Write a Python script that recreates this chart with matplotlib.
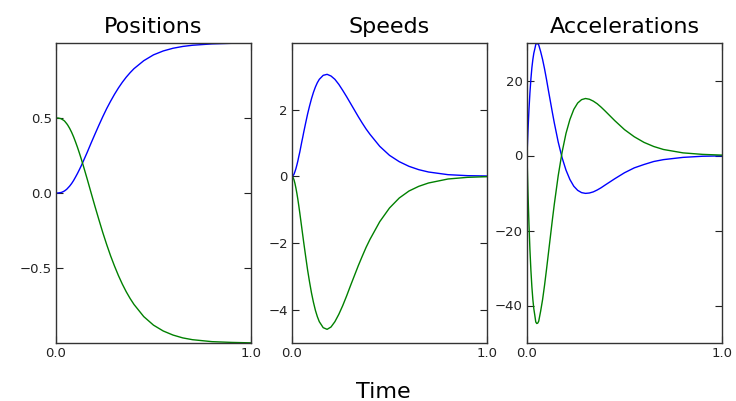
"""
Positions, speeds and accelerations of two trajectories over time,
drawn as three side-by-side panels in the classic matplotlib look.
"""

import matplotlib

matplotlib.use("Agg")
import matplotlib.pyplot as plt

# ---------------------------------------------------------------------------
# Values

time = [0.0, 0.005, 0.01, 0.015, 0.02, 0.025, 0.03, 0.035, 0.04, 0.045,
        0.05, 0.055, 0.06, 0.07, 0.08, 0.09, 0.10, 0.11, 0.12, 0.13, 0.14,
        0.16, 0.18, 0.20, 0.22, 0.24, 0.26, 0.28, 0.30, 0.32, 0.34, 0.36,
        0.38, 0.40, 0.45, 0.50, 0.55, 0.60, 0.65, 0.70, 0.80, 0.90, 1.0]

pos_blue = [0.0, 0.0, 0.0, 0.001, 0.002, 0.003, 0.005, 0.008, 0.011, 0.015,
            0.020, 0.025, 0.032, 0.046, 0.063, 0.083, 0.106, 0.130, 0.156,
            0.183, 0.212, 0.271, 0.333, 0.393, 0.452, 0.509, 0.563, 0.612,
            0.658, 0.700, 0.738, 0.772, 0.802, 0.829, 0.882, 0.921, 0.947,
            0.965, 0.977, 0.985, 0.994, 0.998, 0.999]
pos_green = [0.5, 0.5, 0.5, 0.499, 0.497, 0.496, 0.492, 0.488, 0.484, 0.478,
             0.470, 0.462, 0.453, 0.431, 0.405, 0.375, 0.341, 0.305, 0.266,
             0.225, 0.182, 0.093, 0.001, -0.090, -0.178, -0.264, -0.344,
             -0.419, -0.487, -0.550, -0.607, -0.658, -0.703, -0.743, -0.824,
             -0.881, -0.920, -0.947, -0.966, -0.978, -0.991, -0.996, -0.999]

speed_blue = [0.0, 0.02, 0.06, 0.14, 0.23, 0.34, 0.46, 0.60, 0.73, 0.88,
              1.03, 1.17, 1.32, 1.60, 1.87, 2.11, 2.33, 2.52, 2.68, 2.81,
              2.91, 3.03, 3.06, 3.01, 2.91, 2.76, 2.58, 2.39, 2.19, 1.99,
              1.79, 1.60, 1.42, 1.26, 0.90, 0.63, 0.44, 0.30, 0.20, 0.13,
              0.05, 0.02, 0.01]
speed_green = [0.0, -0.03, -0.10, -0.21, -0.35, -0.51, -0.69, -0.89, -1.10,
               -1.32, -1.54, -1.76, -1.98, -2.40, -2.81, -3.17, -3.50, -3.78,
               -4.02, -4.21, -4.36, -4.54, -4.59, -4.52, -4.36, -4.14, -3.88,
               -3.59, -3.28, -2.98, -2.68, -2.40, -2.13, -1.89, -1.36, -0.95,
               -0.65, -0.44, -0.30, -0.20, -0.08, -0.03, -0.01]

acc_blue = [0.0, 6.6, 12.2, 16.7, 20.4, 23.4, 25.6, 27.3, 28.4, 29.6, 29.9,
            29.8, 29.5, 27.7, 25.6, 23.1, 20.3, 17.3, 14.4, 11.5, 8.7, 3.6,
            -0.6, -3.9, -6.4, -8.2, -9.3, -9.9, -10.1, -10.0, -9.7, -9.2,
            -8.6, -7.9, -6.2, -4.6, -3.3, -2.4, -1.6, -1.1, -0.5, -0.2, -0.1]
acc_green = [0.0, -9.9, -18.2, -25.1, -30.6, -35.0, -38.4, -40.9, -42.6,
             -44.4, -44.8, -44.7, -44.2, -41.5, -38.4, -34.6, -30.4, -26.0,
             -21.6, -17.2, -13.0, -5.4, 0.9, 5.9, 9.6, 12.3, 14.0, 14.9, 15.2,
             15.0, 14.5, 13.8, 12.9, 11.9, 9.3, 6.9, 5.0, 3.5, 2.4, 1.6, 0.7,
             0.3, 0.1]

panels = [
    ("Positions", pos_blue, pos_green, (-1.0, 1.0), [-0.5, 0.0, 0.5], "%.1f"),
    ("Speeds", speed_blue, speed_green, (-5, 4), [-4, -2, 0, 2], "%d"),
    ("Accelerations", acc_blue, acc_green, (-50, 30), [-40, -20, 0, 20], "%d"),
]

# ---------------------------------------------------------------------------
# Figure

W, H = 736, 401
fig = plt.figure(figsize=(W / 100, H / 100), dpi=100)

ax_lefts = [56, 292, 527]
ax_w, ax_top, ax_bottom = 195, 43, 343


def _style_axes(ax, ylim, yticks, fmt):
    """Classic look: inward ticks on all four sides, only end labels on x."""
    ax.set_xlim(0, 1)
    ax.set_ylim(*ylim)
    ax.set_xticks([0.0, 1.0])
    ax.set_xticklabels(["0.0", "1.0"])
    ax.set_yticks(yticks)
    ax.set_yticklabels([(fmt % v).replace("-", "\u2212") for v in yticks])
    ax.tick_params(direction="in", length=5, width=0.8, top=True, right=True,
                   labelsize=9.5, pad=3, colors="#222222")
    for s in ax.spines.values():
        s.set_linewidth(1.0)
        s.set_color("#333333")


for left, (title, blue, green, ylim, yticks, fmt) in zip(ax_lefts, panels):
    ax = fig.add_axes([left / W, (H - ax_bottom) / H, ax_w / W,
                       (ax_bottom - ax_top) / H])
    ax.plot(time, blue, color="#0000ff", lw=1.0)
    ax.plot(time, green, color="#008000", lw=1.0)
    ax.set_title(title, fontsize=16, pad=7)
    _style_axes(ax, ylim, yticks, fmt)

fig.text(383 / W, (H - 398) / H, "Time", fontsize=16, ha="center",
         va="baseline")

fig.savefig("out.png", dpi=100)
plt.close(fig)
